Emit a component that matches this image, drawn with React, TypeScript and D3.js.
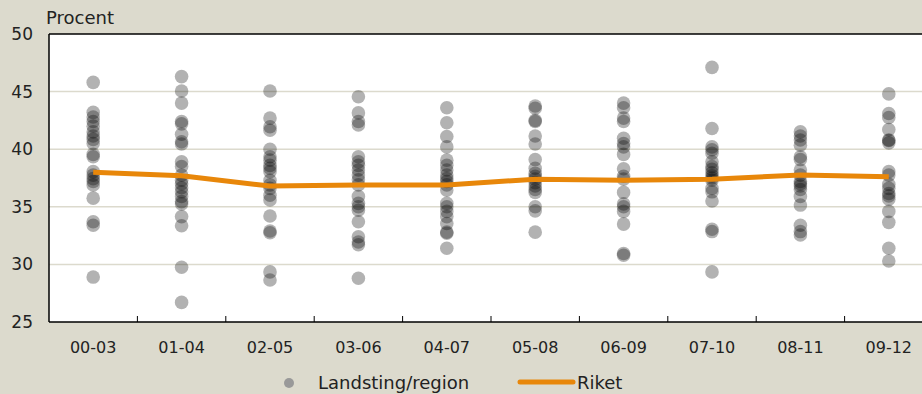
import React from "react";
import * as d3 from "d3";

const categories = ["00-03", "01-04", "02-05", "03-06", "04-07", "05-08", "06-09", "07-10", "08-11", "09-12"];

const regionValues: number[][] = [
  [45.8, 43.2, 42.8, 42.4, 42.0, 41.5, 41.15, 40.85, 40.5, 39.55, 39.35, 38.05, 37.75, 37.45, 37.2, 36.9, 35.75, 33.7, 33.4, 28.9],
  [46.3, 45.05, 44.0, 42.4, 42.2, 41.3, 40.65, 40.45, 38.9, 38.5, 37.75, 37.3, 37.0, 36.65, 36.3, 35.9, 35.45, 35.25, 34.15, 33.35, 29.75, 26.7],
  [45.05, 42.7, 41.95, 41.65, 40.0, 39.35, 39.05, 38.6, 38.35, 38.05, 37.3, 36.9, 36.6, 36.0, 35.6, 34.2, 32.9, 32.75, 29.35, 28.65],
  [44.55, 43.15, 42.4, 42.1, 39.35, 38.9, 38.6, 38.2, 37.75, 37.35, 36.9, 35.9, 35.3, 35.0, 34.7, 33.7, 32.4, 31.95, 31.7, 28.8],
  [43.6, 42.3, 41.1, 40.2, 39.05, 38.6, 38.2, 37.75, 37.45, 37.2, 36.9, 36.45, 35.3, 35.0, 34.6, 34.15, 33.55, 32.8, 32.7, 31.4],
  [43.75, 43.55, 42.5, 42.4, 41.15, 40.45, 39.1, 38.35, 37.9, 37.65, 37.4, 37.1, 36.8, 36.5, 36.25, 35.0, 34.65, 32.8],
  [44.0, 43.6, 42.7, 42.4, 40.95, 40.5, 40.2, 39.55, 38.3, 37.65, 37.4, 36.25, 35.25, 35.0, 34.6, 33.5, 30.95, 30.8],
  [47.1, 41.8, 40.2, 39.95, 39.65, 38.9, 38.5, 38.25, 37.95, 37.7, 37.5, 37.3, 36.6, 36.3, 35.5, 33.05, 32.85, 29.35],
  [41.5, 41.15, 40.8, 40.35, 39.35, 39.1, 38.2, 37.75, 37.2, 37.0, 36.8, 36.5, 35.9, 35.15, 33.4, 32.85, 32.55],
  [44.8, 43.1, 42.75, 41.7, 40.8, 40.75, 40.55, 38.05, 37.75, 36.95, 36.6, 36.15, 35.95, 35.65, 34.6, 33.65, 31.4, 30.3],
];

const riketValues = [38.0, 37.7, 36.8, 36.9, 36.9, 37.4, 37.3, 37.4, 37.75, 37.6];

const yTicks = [25, 30, 35, 40, 45, 50];

const W = 922;
const H = 394;
const FONT = "'DejaVu Sans', sans-serif";
const TEXT = "#222";

export default function App() {
  const left = 49;
  const top = 34;
  const bottom = 322;
  const x = d3.scaleBand<string>().domain(categories).range([left, left + 88.4 * categories.length]).padding(0);
  const y = d3.scaleLinear().domain([25, 50]).range([bottom, top]);
  const cx = (c: string) => (x(c) as number) + x.bandwidth() / 2;

  const line = d3
    .line<number>()
    .x((_, i) => cx(categories[i]))
    .y((d) => y(d));

  return (
    <svg width={W} height={H} style={{ position: "absolute", left: 0, top: 0, display: "block" }}>
      <rect x={0} y={0} width={W} height={H} fill="#dcdacd" />
      <rect x={left} y={top} width={W - left} height={bottom - top} fill="#ffffff" />
      {yTicks
        .filter((t) => t !== 25 && t !== 50)
        .map((t) => (
          <line key={t} x1={left} x2={W} y1={y(t)} y2={y(t)} stroke="#dcdacd" strokeWidth={1.5} />
        ))}
      <line x1={left} x2={W} y1={top} y2={top} stroke="#000" strokeWidth={1.5} />
      <line x1={left} x2={left} y1={top} y2={bottom} stroke="#000" strokeWidth={1.5} />
      <line x1={left} x2={W} y1={bottom} y2={bottom} stroke="#000" strokeWidth={1.5} />
      {categories.slice(1).map((c) => (
        <line key={c} x1={x(c)} x2={x(c)} y1={bottom} y2={bottom - 6} stroke="#000" strokeWidth={1} />
      ))}
      {regionValues.map((vals, i) =>
        vals.map((v, j) => (
          <circle key={`${i}-${j}`} cx={cx(categories[i])} cy={y(v)} r={6.8} fill="#000" fillOpacity={0.3} />
        ))
      )}
      <path d={line(riketValues) || ""} fill="none" stroke="#e8870a" strokeWidth={5} strokeLinejoin="round" />
      {yTicks.map((t) => (
        <text key={t} x={33} y={y(t)} dy="0.35em" textAnchor="end" fontFamily={FONT} fontSize={17} fill={TEXT}>
          {t}
        </text>
      ))}
      <text x={46} y={24} fontFamily={FONT} fontSize={18} fill={TEXT}>
        Procent
      </text>
      {categories.map((c) => (
        <text key={c} x={cx(c)} y={353} textAnchor="middle" fontFamily={FONT} fontSize={16} fill={TEXT}>
          {c}
        </text>
      ))}
      <circle cx={289} cy={383} r={5} fill="#999" />
      <text x={318} y={389} fontFamily={FONT} fontSize={18} fill={TEXT}>
        Landsting/region
      </text>
      <line x1={520} x2={573} y1={382} y2={382} stroke="#e8870a" strokeWidth={5} strokeLinecap="round" />
      <text x={577} y={389} fontFamily={FONT} fontSize={18} fill={TEXT}>
        Riket
      </text>
    </svg>
  );
}
